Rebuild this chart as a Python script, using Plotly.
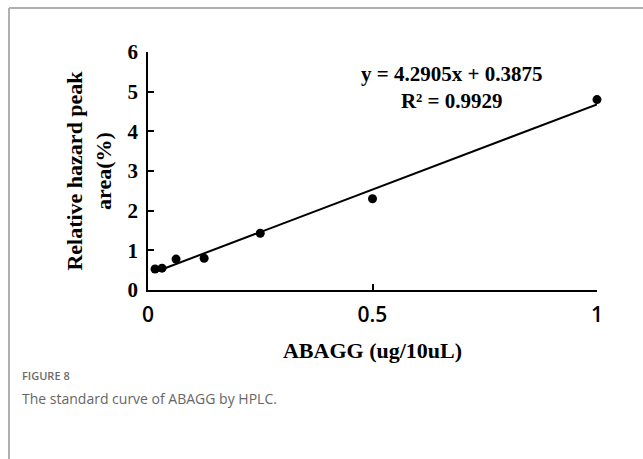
import plotly.graph_objects as go

# Data
conc = [0.015625, 0.03125, 0.0625, 0.125, 0.25, 0.5, 1.0]
area = [0.53, 0.55, 0.78, 0.80, 1.43, 2.30, 4.80]
slope = 4.2905
intercept = 0.3875
r2 = 0.9929
x_ticks = [0, 0.5, 1]
x_tick_labels = ["0", "0.5", "1"]
y_ticks = [0, 1, 2, 3, 4, 5, 6]

fit_x = [min(conc), max(conc)]
fit_y = [slope * v + intercept for v in fit_x]

fig = go.Figure()
fig.add_trace(go.Scatter(x=fit_x, y=fit_y, mode="lines",
                         line=dict(color="black", width=2), cliponaxis=False,
                         hoverinfo="skip"))
fig.add_trace(go.Scatter(x=conc, y=area, mode="markers",
                         marker=dict(color="black", size=9), cliponaxis=False))

serif = "Liberation Serif, Times New Roman, serif"
plot_l, plot_w, plot_t, plot_h = 148, 449, 52, 238
fig.update_layout(
    width=643, height=459,
    margin=dict(l=plot_l, r=643 - plot_l - plot_w, t=plot_t, b=459 - plot_t - plot_h),
    paper_bgcolor="white", plot_bgcolor="white",
    showlegend=False,
    xaxis=dict(range=[0, 1], tickvals=x_ticks, ticktext=x_tick_labels,
               ticks="inside", ticklen=6, tickcolor="black", tickwidth=1.5,
               showline=True, linecolor="black", linewidth=1.5,
               showgrid=False, zeroline=False, ticklabelstandoff=5,
               tickfont=dict(family="Open Sans, sans-serif", size=21, color="black", weight=600),
               title=dict(text="<b>ABAGG (ug/10uL)</b>", standoff=16,
                          font=dict(family=serif, size=22, color="black"))),
    yaxis=dict(range=[0, 6], tickvals=y_ticks,
               ticks="inside", ticklen=6, tickcolor="black", tickwidth=1.5,
               showline=True, linecolor="black", linewidth=1.5,
               showgrid=False, zeroline=False, ticklabelstandoff=4,
               tickfont=dict(family=serif, size=21, color="black", weight="bold"),
               title=dict(text="<b>Relative hazard peak<br>area(%)</b>", standoff=10,
                          font=dict(family=serif, size=22, color="black"))),
)

fig.add_annotation(x=0.677, y=5.11, xref="x", yref="y", showarrow=False,
                   text=f"<b>y = {slope}x + {intercept}<br>R² = {r2}</b>",
                   align="center",
                   font=dict(family=serif, size=21, color="black"))

# figure frame (pixel -> paper)
def px(xp):
    return (xp - plot_l) / plot_w

def py(yp):
    return 1 - (yp - plot_t) / plot_h

fig.add_shape(type="line", xref="paper", yref="paper", x0=px(9), x1=px(643),
              y0=py(8), y1=py(8), line=dict(color="#b0b0b0", width=2))
fig.add_shape(type="line", xref="paper", yref="paper", x0=px(9), x1=px(9),
              y0=py(8), y1=py(459), line=dict(color="#b0b0b0", width=2))

fig.add_annotation(x=px(20), y=py(375), xref="paper", yref="paper", showarrow=False,
                   text="FIGURE 8", font=dict(family="Open Sans, sans-serif", size=11, color="#6b6b6b", weight=600),
                   xanchor="left", yanchor="middle")
fig.add_annotation(x=px(20), y=py(398), xref="paper", yref="paper", showarrow=False,
                   text="The standard curve of ABAGG by HPLC.",
                   font=dict(family="Open Sans, sans-serif", size=14, color="#666666"),
                   xanchor="left", yanchor="middle")

fig.write_html("out.html", config={"displayModeBar": False})
with open("out.html", "r", encoding="utf-8") as f:
    html = f.read()
html = html.replace("<body>", "<body style=\"margin:0;overflow:hidden\">", 1)
with open("out.html", "w", encoding="utf-8") as f:
    f.write(html)
